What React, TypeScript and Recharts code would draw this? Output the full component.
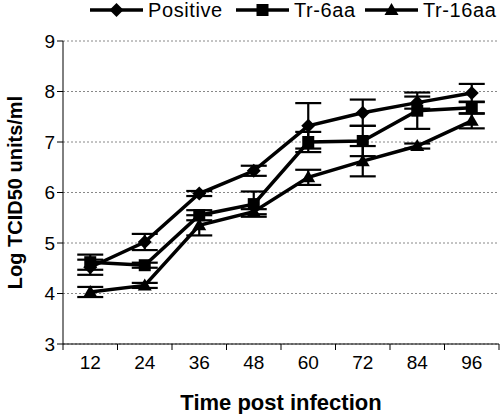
import React from 'react'
import { LineChart, Line, XAxis, YAxis, CartesianGrid, ErrorBar } from 'recharts'

const hours = [12, 24, 36, 48, 60, 72, 84, 96]
const positive = [4.52, 5.02, 5.98, 6.43, 7.32, 7.58, 7.78, 7.97]
const positiveErr = [0.15, 0.16, 0.05, 0.1, 0.45, 0.26, 0.12, 0.18]
const tr6aa = [4.62, 4.56, 5.55, 5.77, 7.0, 7.02, 7.62, 7.68]
const tr6aaErr = [0.15, 0.05, 0.1, 0.25, 0.2, 0.3, 0.36, 0.12]
const tr16aa = [4.03, 4.16, 5.35, 5.62, 6.3, 6.62, 6.92, 7.42]
const tr16aaErr = [0.1, 0.05, 0.2, 0.05, 0.15, 0.3, 0.05, 0.15]
const yTicks = [3, 4, 5, 6, 7, 8, 9]

const data = hours.map((h, i) => ({
  hour: h,
  positive: positive[i],
  positiveErr: positiveErr[i],
  tr6aa: tr6aa[i],
  tr6aaErr: tr6aaErr[i],
  tr16aa: tr16aa[i],
  tr16aaErr: tr16aaErr[i],
}))

const FONT = '"Liberation Sans", Arial, sans-serif'

const Diamond = ({ cx, cy }: any) =>
  cx == null ? null : (
    <path d={`M${cx},${cy - 7} L${cx + 7},${cy} L${cx},${cy + 7} L${cx - 7},${cy} Z`} fill="#000" />
  )

const Square = ({ cx, cy }: any) =>
  cx == null ? null : <rect x={cx - 6} y={cy - 6} width={12} height={12} fill="#000" />

const Triangle = ({ cx, cy }: any) =>
  cx == null ? null : (
    <path d={`M${cx},${cy - 7} L${cx + 7},${cy + 5} L${cx - 7},${cy + 5} Z`} fill="#000" />
  )

// half of one category band, used for the boundary tick marks
const HALF = 27.25

const XTick = ({ x, y, payload, index }: any) => (
  <g>
    <line x1={x - HALF} y1={y - 8} x2={x - HALF} y2={y - 2} stroke="#000" strokeWidth={1} />
    {index === hours.length - 1 && (
      <line x1={x + HALF} y1={y - 8} x2={x + HALF} y2={y - 2} stroke="#000" strokeWidth={1} />
    )}
    <text x={x} y={y + 17} textAnchor="middle" fontSize={19} fontFamily={FONT} fill="#000">
      {payload.value}
    </text>
  </g>
)

const YLabel = ({ viewBox }: any) => {
  const cy = viewBox.y + viewBox.height / 2
  return (
    <text
      x={15}
      y={cy}
      transform={`rotate(-90, 15, ${cy})`}
      textAnchor="middle"
      dominantBaseline="central"
      fontSize={20}
      fontWeight="bold"
      fontFamily={FONT}
      fill="#000"
    >
      Log TCID50 units/ml
    </text>
  )
}

const LegendItem = ({ label, Marker, left }: any) => (
  <div style={{ position: 'absolute', left, top: 0, display: 'flex', alignItems: 'center', whiteSpace: 'nowrap' }}>
    <svg width={53} height={20}>
      <line x1={0} y1={10} x2={53} y2={10} stroke="#000" strokeWidth={3.5} />
      <Marker cx={26.5} cy={10} />
    </svg>
    <span
      style={{ marginLeft: 5, fontSize: 20, lineHeight: '19px', letterSpacing: 0.6, fontFamily: FONT, color: '#000' }}
    >
      {label}
    </span>
  </div>
)

export default function App() {
  return (
    <div style={{ position: 'absolute', left: 0, top: 0, width: 500, height: 414, background: '#fff' }}>
      <LineChart width={500} height={414} data={data} margin={{ top: 41, right: 1, left: 0, bottom: 0 }}>
        <CartesianGrid vertical={false} stroke="#888" strokeDasharray="2 2" />
        <XAxis
          dataKey="hour"
          type="number"
          domain={[6, 102]}
          ticks={hours}
          height={70}
          stroke="#000"
          tickLine={false}
          tick={<XTick />}
          label={{
            value: 'Time post infection',
            position: 'insideBottom',
            offset: 4,
            fontSize: 22,
            fontWeight: 'bold',
            fontFamily: FONT,
            fill: '#000',
          }}
        />
        <YAxis
          domain={[3, 9]}
          ticks={yTicks}
          width={63}
          stroke="#000"
          tickSize={6}
          tick={{ fontSize: 19, fontFamily: FONT, fill: '#000' }}
          label={<YLabel />}
        />
        <Line dataKey="positive" stroke="#000" strokeWidth={3.5} dot={<Diamond />} isAnimationActive={false}>
          <ErrorBar dataKey="positiveErr" width={13} stroke="#000" strokeWidth={2.2} direction="y" />
        </Line>
        <Line dataKey="tr6aa" stroke="#000" strokeWidth={3.5} dot={<Square />} isAnimationActive={false}>
          <ErrorBar dataKey="tr6aaErr" width={13} stroke="#000" strokeWidth={2.2} direction="y" />
        </Line>
        <Line dataKey="tr16aa" stroke="#000" strokeWidth={3.5} dot={<Triangle />} isAnimationActive={false}>
          <ErrorBar dataKey="tr16aaErr" width={13} stroke="#000" strokeWidth={2.2} direction="y" />
        </Line>
      </LineChart>
      <LegendItem label="Positive" Marker={Diamond} left={90} />
      <LegendItem label="Tr-6aa" Marker={Square} left={236} />
      <LegendItem label="Tr-16aa" Marker={Triangle} left={365} />
    </div>
  )
}
